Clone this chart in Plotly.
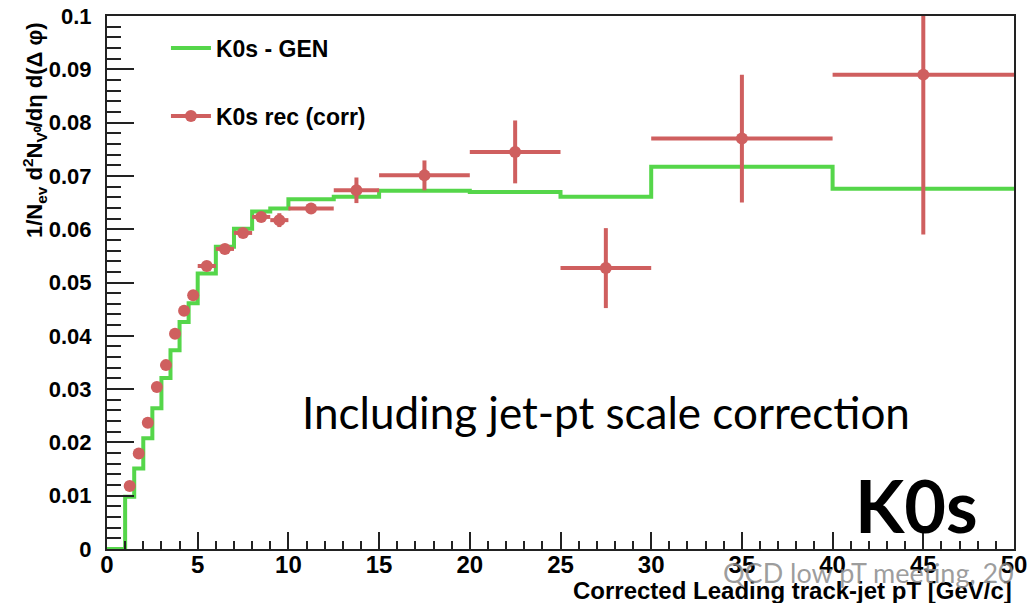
import plotly.graph_objects as go

# ---- data ----
gen_edges = [0, 0.5, 1, 1.5, 2, 2.5, 3, 3.5, 4, 4.5, 5, 6, 7, 8, 9, 10, 12.5, 15, 20, 25, 30, 40, 50]
gen_values = [0, 0, 0.0098, 0.0151, 0.0208, 0.0264, 0.0321, 0.0373, 0.0426, 0.0461,
              0.0517, 0.0567, 0.0601, 0.0633, 0.0639, 0.0656, 0.0661, 0.0672, 0.0670,
              0.0661, 0.0717, 0.0676]

rec_x = [1.25, 1.75, 2.25, 2.75, 3.25, 3.75, 4.25, 4.75, 5.5, 6.5, 7.5, 8.5, 9.5,
         11.25, 13.75, 17.5, 22.5, 27.5, 35, 45]
rec_y = [0.0118, 0.0179, 0.0237, 0.0304, 0.0345, 0.0404, 0.0447, 0.0476, 0.0531, 0.0563,
         0.0593, 0.0623, 0.0617, 0.0639, 0.0673, 0.0701, 0.0745, 0.0527, 0.0770, 0.0890]
rec_xerr = [0.25] * 8 + [0.5] * 5 + [1.25, 1.25, 2.5, 2.5, 2.5, 5, 5]
rec_yerr = [0.0004, 0.0004, 0.0005, 0.0005, 0.0005, 0.0006, 0.0006, 0.0006, 0.0006, 0.0007,
            0.0007, 0.0008, 0.0013, 0.0009, 0.0024, 0.0028, 0.0059, 0.0075, 0.0120, 0.0300]

x_ticks = [0, 5, 10, 15, 20, 25, 30, 35, 40, 45, 50]

GREEN = "#55d64a"
RED = "#cf5f5f"
BOLD = "Liberation Sans, Arial, sans-serif"
SLIDE = "Lato, Carlito, Calibri, sans-serif"

fig = go.Figure()

# GEN step histogram
fig.add_trace(go.Scatter(
    x=gen_edges, y=gen_values + [gen_values[-1]],
    mode="lines", line=dict(shape="hv", color=GREEN, width=4),
    name="K0s - GEN", legendgroup="gen", showlegend=True,
))

# rec points
fig.add_trace(go.Scatter(
    x=rec_x, y=rec_y, mode="markers",
    marker=dict(color=RED, size=12),
    error_x=dict(type="data", array=rec_xerr, color=RED, thickness=4, width=0),
    error_y=dict(type="data", array=rec_yerr, color=RED, thickness=4, width=0),
    name="K0s rec (corr)", showlegend=False, legendgroup="rec",
))
# legend entry for rec
fig.add_trace(go.Scatter(
    x=[None], y=[None], mode="lines+markers",
    line=dict(color=RED, width=4), marker=dict(color=RED, size=12),
    name="K0s rec (corr)", legendgroup="rec", showlegend=True,
))

fig.update_layout(
    width=1030, height=603,
    margin=dict(l=107, r=16, t=16, b=54, autoexpand=False),
    paper_bgcolor="white", plot_bgcolor="white",
    showlegend=True,
    legend=dict(
        x=0.065, y=0.98, xanchor="left", yanchor="top",
        bgcolor="rgba(0,0,0,0)", traceorder="grouped", tracegroupgap=35,
        font=dict(family=BOLD, size=23, color="black", weight="bold"),
        itemwidth=40,
    ),
)

fig.update_xaxes(
    range=[0, 50], tickvals=x_ticks, ticktext=[str(v) for v in x_ticks],
    ticks="inside", ticklen=17, tickwidth=2, tickcolor="#222",
    minor=dict(dtick=1, ticks="inside", ticklen=8, tickwidth=2, tickcolor="#222"),
    showline=True, linecolor="#222", linewidth=2, mirror=True,
    showgrid=False, zeroline=False, automargin=False,
    tickfont=dict(family=BOLD, size=24, color="black", weight="bold"),
    ticklabelstandoff=-7,
    title=None,
)
fig.update_yaxes(
    range=[0, 0.1], dtick=0.01,
    ticks="inside", ticklen=27, tickwidth=2, tickcolor="#222",
    minor=dict(dtick=0.002, ticks="inside", ticklen=14, tickwidth=2, tickcolor="#222"),
    showline=True, linecolor="#222", linewidth=2, mirror=True,
    showgrid=False, zeroline=False, automargin=False,
    tickfont=dict(family=BOLD, size=22, color="black", weight="bold"),
    ticklabelstandoff=9,
    title=None,
)

# y axis title (top aligned, ROOT style)
fig.add_annotation(
    xref="paper", yref="paper", x=(34 - 107) / 907, y=(549 - 20) / 533,
    xanchor="center", yanchor="top",
    text="1/N<sub>ev</sub> d<sup>2</sup>N<sub>V⁰</sub>/dη d(Δ φ)", textangle=-90,
    showarrow=False, font=dict(family=BOLD, size=22, color="black", weight="bold"),
)
# x axis title (right aligned)
fig.add_annotation(
    xref="paper", yref="paper", x=1.0, y=(549 - 590) / 533, xanchor="right", yanchor="middle",
    text="Corrected Leading track-jet pT [GeV/c]",
    showarrow=False, font=dict(family=BOLD, size=24, color="black", weight="bold"),
)
# slide texts
fig.add_annotation(
    xref="paper", yref="paper", x=(606 - 107) / 907, y=(549 - 412) / 533,
    xanchor="center", yanchor="middle", text="Including jet-pt scale correction",
    showarrow=False, font=dict(family=SLIDE, size=44, color="black"),
)
fig.add_annotation(
    xref="paper", yref="paper", x=(916 - 107) / 907, y=(549 - 505) / 533,
    xanchor="center", yanchor="middle", text="K0s",
    showarrow=False, font=dict(family=SLIDE, size=72, color="black", weight="bold"),
)
fig.add_annotation(
    xref="paper", yref="paper", x=(721 - 107) / 907, y=(549 - 572) / 533,
    xanchor="left", yanchor="middle", text="QCD low pT meeting, 20",
    showarrow=False, font=dict(family=SLIDE, size=27, color="rgba(140,140,140,0.85)"),
)

fig.write_html("out.html", config={"displayModeBar": False},
               post_script="document.body.style.margin='0px';")
